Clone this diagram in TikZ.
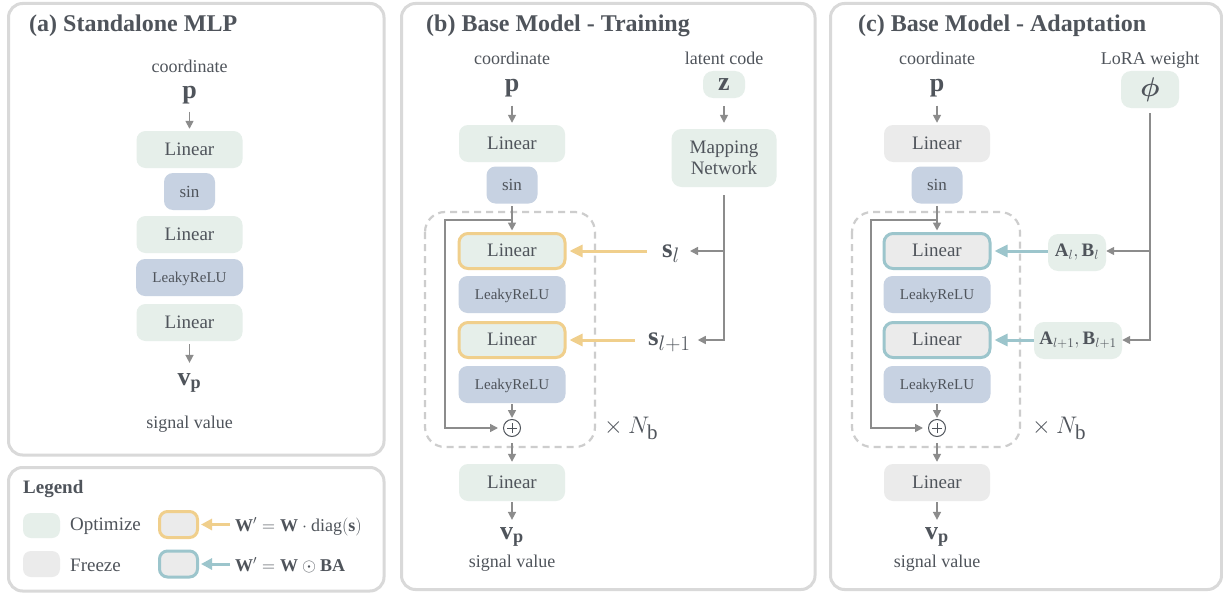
\RequirePackage{fix-cm}
\documentclass[tikz,border=0pt]{standalone}
\usepackage{amsmath}
\usepackage{fontspec}
\setmainfont{Liberation Serif}
\usetikzlibrary{arrows.meta,calc}

% larger subscripts for the big inline symbols
\DeclareMathSizes{27}{27}{21}{15}
\DeclareMathSizes{24}{24}{21}{15}

\definecolor{txt}{HTML}{4F545B}
\definecolor{optc}{HTML}{E6EFEA}
\definecolor{actc}{HTML}{C7D2E2}
\definecolor{frzc}{HTML}{EBEBEB}
\definecolor{yelc}{HTML}{F0CF8C}
\definecolor{lorac}{HTML}{9CC5CC}
\definecolor{arrc}{HTML}{8C8C8C}
\definecolor{panelc}{HTML}{D9D9D9}
\definecolor{dashc}{HTML}{CDCDCD}

\newcommand\fsz[1]{\fontsize{#1}{#1}\selectfont}

\begin{document}
\begin{tikzpicture}[x=1pt,y=-1pt,
  every node/.style={text=txt},
  panelbox/.style={draw=panelc, line width=3pt, rounded corners=14pt},
  dashbox/.style={draw=dashc, line width=2.2pt, dash pattern=on 7pt off 5pt, rounded corners=20pt},
  title/.style={anchor=base west, inner sep=0pt, font=\fsz{24}\bfseries},
  lbl/.style={anchor=base, inner sep=0pt, font=\fsz{18}},
  sym/.style={anchor=base, inner sep=0pt, font=\fsz{26}\bfseries},
  blk/.style={rectangle, rounded corners=9pt, inner sep=0pt, minimum height=37pt, text height=11pt, text depth=0pt, font=\fsz{19}},
  lin/.style={blk, minimum width=106pt},
  opt/.style={fill=optc},
  frz/.style={fill=frzc},
  sinbox/.style={blk, fill=actc, minimum width=51pt, font=\fsz{17}},
  lrelu/.style={blk, fill=actc, minimum width=107pt, font=\fsz{15}, text height=10pt},
  scaled/.style={draw=yelc, line width=3pt, minimum width=106pt, minimum height=35pt},
  lora/.style={draw=lorac, line width=3pt, minimum width=106pt, minimum height=35pt},
  tag/.style={rectangle, rounded corners=10pt, fill=optc, inner sep=0pt},
  swatch/.style={rectangle, rounded corners=8pt, inner sep=0pt, minimum width=37pt, minimum height=25pt},
  scale lbl/.style={anchor=base west, inner sep=0pt, font=\fsz{27}},
  rep/.style={anchor=base west, inner sep=0pt, font=\fsz{24}},
  garrow/.style={draw=arrc, line width=1.6pt, -{Triangle[length=8pt,width=8pt]}},
  yarrow/.style={draw=yelc, line width=3pt, -{Triangle[length=13pt,width=12pt]}},
  tarrow/.style={draw=lorac, line width=3pt, -{Triangle[length=13pt,width=12pt]}},
  adder/.style={circle, draw=txt, line width=1pt, minimum size=17pt, inner sep=0pt,
    path picture={\draw[txt, line width=1pt]
      ([xshift=-5pt]path picture bounding box.center) -- ([xshift=5pt]path picture bounding box.center)
      ([yshift=-5pt]path picture bounding box.center) -- ([yshift=5pt]path picture bounding box.center);}},
]
\useasboundingbox (0,0) rectangle (1223,594);
\fill[white] (0,0) rectangle (1223,594);

% panel frames
\draw[panelbox] (8.5,3.5) rectangle (384,455);
\draw[panelbox] (8.5,467.5) rectangle (384,591);
\draw[panelbox] (401.5,3.5) rectangle (815,589.5);
\draw[panelbox] (830.5,3.5) rectangle (1221.5,589.5);

\node[title] (ta) at (29,32) {(a) Standalone MLP};
\node[title] (tb) at (426,32) {(b) Base Model - Training};
\node[title] (tc) at (858,32) {(c) Base Model - Adaptation};

% ---------- (a) standalone MLP ----------
\node[lbl] (ca) at (189.5,72) {coordinate};
\node[sym] (pa) at (189.5,98) {p};
\node[lin,opt] (a1) at (189.5,149.5) {Linear};
\node[sinbox] (a2) at (189.5,191.5) {sin};
\node[lin,opt] (a3) at (189.5,234.5) {Linear};
\node[lrelu] (a4) at (189.5,277.5) {LeakyReLU};
\node[lin,opt] (a5) at (189.5,322.5) {Linear};
\node[sym] (va) at (189.5,385) {$\textbf{v}_{\textbf{p}}$};
\node[lbl] (sa) at (189.5,428) {signal value};
\draw[garrow, shorten <=8pt, shorten >=2pt] (pa.south) -- (a1.north);
\draw[garrow, shorten <=3pt, shorten >=10pt] (a5.south) -- (va.north);

% ---------- (b) base model, training ----------
\node[lbl] (cb) at (512,65) {coordinate};
\node[sym] (pb) at (512,92) {p};
\node[lin,opt] (b1) at (512,143.5) {Linear};
\node[sinbox] (b2) at (512,185) {sin};
\node[lin,opt,scaled] (b3) at (512,251) {Linear};
\node[lrelu] (b4) at (512,294.5) {LeakyReLU};
\node[lin,opt,scaled] (b5) at (512,340) {Linear};
\node[lrelu] (b6) at (512,384.5) {LeakyReLU};
\node[adder] (plb) at (512,428) {};
\node[lin,opt] (b7) at (512,482.5) {Linear};
\node[sym] (vb) at (512,539) {$\textbf{v}_{\textbf{p}}$};
\node[lbl] (sb) at (512,567) {signal value};
\draw[dashbox] (425,212) rectangle (595,447);
\node[rep] (nb) at (604,433) {$\times\mkern4mu N_{\mathrm{b}}$};

\draw[garrow, shorten <=8pt, shorten >=2pt] (pb.south) -- (b1.north);
\draw[garrow, shorten <=2.5pt, shorten >=1.5pt] (b2.south) -- (b3.north);
\coordinate (skb) at ($(b2.south)+(0,16)$);
\draw[garrow, shorten >=5pt] (skb) -- ++(-67,0) |- (plb.west);
\draw[garrow, shorten <=1pt, shorten >=1pt] (b6.south) -- (plb.north);
\draw[garrow, shorten <=6pt, shorten >=2pt] (plb.south) -- (b7.north);
\draw[garrow, shorten <=1pt, shorten >=7pt] (b7.south) -- (vb.north);

\node[lbl] (lb) at (724,64) {latent code};
\node[tag, minimum width=42pt, minimum height=27pt, font=\fsz{26}\bfseries, text height=12pt, text depth=0pt] (zb) at (724,84.5) {z};
\node[tag, minimum width=105pt, minimum height=58pt, align=center, font=\fontsize{19}{21}\selectfont] (map) at (724,158) {Mapping\\Network};
\draw[garrow, shorten <=8pt, shorten >=6pt] (zb.south) -- (map.north);
\node[scale lbl] (sl) at (662,257) {$\textbf{s}_{l}$};
\node[scale lbl] (sl1) at (648,345) {$\textbf{s}_{l+1}$};
\coordinate (jb1) at (map.south |- b3.east);
\coordinate (jb2) at (map.south |- b5.east);
\draw[garrow, shorten <=8pt, shorten >=7pt] (map.south) -- (jb2) -- (jb2 -| sl1.east);
\draw[garrow, shorten >=10pt] (jb1) -- (jb1 -| sl.east);
\draw[yarrow, shorten <=15pt, shorten >=3pt] (sl.west |- b3.east) -- (b3.east);
\draw[yarrow, shorten <=13pt, shorten >=3pt] (sl1.west |- b5.east) -- (b5.east);

% ---------- (c) base model, adaptation ----------
\node[lbl] (cc) at (937,65) {coordinate};
\node[sym] (pc) at (937,92) {p};
\node[lin,frz] (c1) at (937,143.5) {Linear};
\node[sinbox] (c2) at (937,185) {sin};
\node[lin,frz,lora] (c3) at (937,251) {Linear};
\node[lrelu] (c4) at (937,294.5) {LeakyReLU};
\node[lin,frz,lora] (c5) at (937,340) {Linear};
\node[lrelu] (c6) at (937,384.5) {LeakyReLU};
\node[adder] (plc) at (937,428) {};
\node[lin,frz] (c7) at (937,482.5) {Linear};
\node[sym] (vc) at (937,539) {$\textbf{v}_{\textbf{p}}$};
\node[lbl] (sc) at (937,567) {signal value};
\draw[dashbox] (852,212) rectangle (1020,447);
\node[rep] (nc) at (1032,433) {$\times\mkern4mu N_{\mathrm{b}}$};

\draw[garrow, shorten <=8pt, shorten >=2pt] (pc.south) -- (c1.north);
\draw[garrow, shorten <=2.5pt, shorten >=1.5pt] (c2.south) -- (c3.north);
\coordinate (skc) at ($(c2.south)+(0,16)$);
\draw[garrow, shorten >=5pt] (skc) -- ++(-66,0) |- (plc.west);
\draw[garrow, shorten <=1pt, shorten >=1pt] (c6.south) -- (plc.north);
\draw[garrow, shorten <=6pt, shorten >=2pt] (plc.south) -- (c7.north);
\draw[garrow, shorten <=1pt, shorten >=7pt] (c7.south) -- (vc.north);

\node[lbl] (lc) at (1150,65) {LoRA weight};
\node[tag, minimum width=58pt, minimum height=37pt, font=\fsz{27}] (phi) at (1150,89.5) {$\boldsymbol{\phi}$};
\node[tag, minimum width=58pt, minimum height=37pt, font=\fsz{19}] (ab1) at (1077,252.5) {$\textbf{A}_{l},\textbf{B}_{l}$};
\node[tag, minimum width=88pt, minimum height=37pt, font=\fsz{19}] (ab2) at (1078,340.5) {$\textbf{A}_{l+1},\textbf{B}_{l+1}$};
\coordinate (jc1) at (phi.south |- c3.east);
\coordinate (jc2) at (phi.south |- c5.east);
\draw[garrow, shorten <=5pt] (phi.south) -- (jc2) -- (jc2 -| ab2.east);
\draw[garrow] (jc1) -- (jc1 -| ab1.east);
\draw[tarrow, shorten >=3pt] (ab1.west |- c3.east) -- (c3.east);
\draw[tarrow, shorten >=3pt] (ab2.west |- c5.east) -- (c5.east);

% ---------- legend ----------
\node[anchor=base west, inner sep=0pt, font=\fsz{19}\bfseries] (lg) at (23,493) {Legend};
\node[swatch, fill=optc] (sw1) at (41.5,525.5) {};
\node[anchor=base west, inner sep=0pt, font=\fsz{19}] (tw1) at (70,530) {Optimize};
\node[swatch, fill=frzc, minimum height=26pt] (sw2) at (41.5,564) {};
\node[anchor=base west, inner sep=0pt, font=\fsz{19}] (tw2) at (70,571) {Freeze};
\node[swatch, fill=frzc, draw=yelc, line width=3pt, minimum width=38pt, minimum height=26pt] (kb1) at (178.5,524.5) {};
\node[swatch, fill=frzc, draw=lorac, line width=3pt, minimum width=38pt, minimum height=26pt] (kb2) at (178.5,564) {};
\node[anchor=base west, inner sep=0pt, font=\fsz{18}] (fm1) at (235,531) {$\textbf{W}'=\textbf{W}\cdot\mathrm{diag}(\textbf{s})$};
\node[anchor=base west, inner sep=0pt, font=\fsz{18}] (fm2) at (235,571) {$\textbf{W}'=\textbf{W}\odot\textbf{BA}$};
\draw[yarrow, -{Triangle[length=11pt,width=11pt]}, shorten <=5pt, shorten >=2pt] (fm1.west |- kb1.east) -- (kb1.east);
\draw[tarrow, -{Triangle[length=11pt,width=11pt]}, shorten <=5pt, shorten >=2pt] (fm2.west |- kb2.east) -- (kb2.east);
\end{tikzpicture}
\end{document}
